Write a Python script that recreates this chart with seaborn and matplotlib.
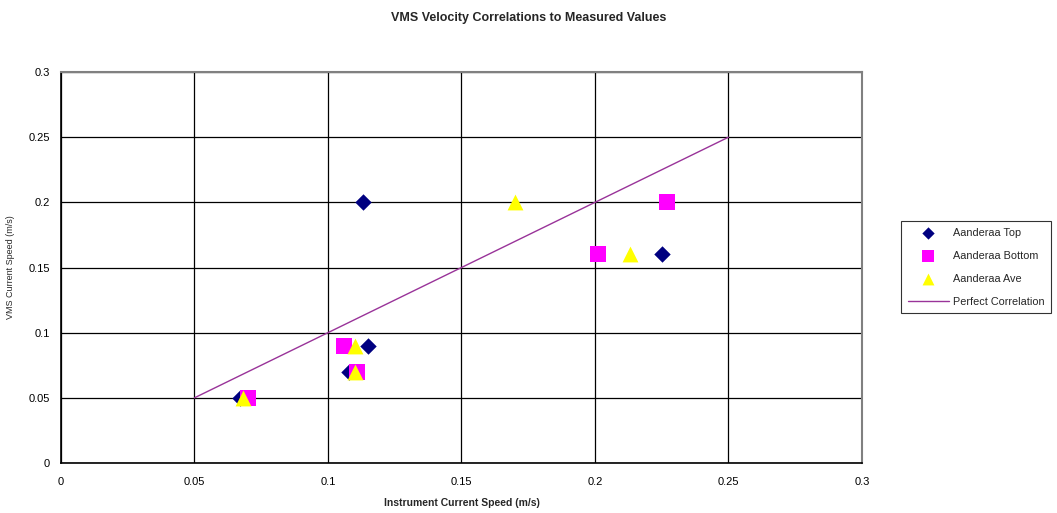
import pandas as pd
import numpy as np
import matplotlib
matplotlib.use("Agg")
import matplotlib.pyplot as plt
import seaborn as sns

# Values (m/s)
top_x = [0.067, 0.108, 0.115, 0.113, 0.225]
top_y = [0.05, 0.07, 0.09, 0.20, 0.16]
bottom_x = [0.070, 0.111, 0.106, 0.201, 0.227]
bottom_y = [0.05, 0.07, 0.09, 0.16, 0.20]
ave_x = [0.068, 0.110, 0.110, 0.170, 0.213]
ave_y = [0.05, 0.07, 0.09, 0.20, 0.16]
perfect_x = [0.05, 0.25]
perfect_y = [0.05, 0.25]

series_names = ["Aanderaa Top", "Aanderaa Bottom", "Aanderaa Ave"]
ticks = [0, 0.05, 0.1, 0.15, 0.2, 0.25, 0.3]
tick_labels = ["0", "0.05", "0.1", "0.15", "0.2", "0.25", "0.3"]

df = pd.concat([
    pd.DataFrame({"x": top_x, "y": top_y, "Series": series_names[0]}),
    pd.DataFrame({"x": bottom_x, "y": bottom_y, "Series": series_names[1]}),
    pd.DataFrame({"x": ave_x, "y": ave_y, "Series": series_names[2]}),
], ignore_index=True)
line_df = pd.DataFrame({"x": perfect_x, "y": perfect_y})

sns.set_theme(style="white")
plt.rcParams['font.family'] = ['Liberation Sans', 'DejaVu Sans']

fig = plt.figure(figsize=(10.57, 5.13), dpi=100)
ax = fig.add_axes([0.0577, 0.0975, 0.7578, 0.7621])

palette = {"Aanderaa Top": "#000080", "Aanderaa Bottom": "#FF00FF", "Aanderaa Ave": "#FFFF00"}
markers = {"Aanderaa Top": "D", "Aanderaa Bottom": "s", "Aanderaa Ave": "^"}
sizes = {"Aanderaa Top": 70, "Aanderaa Bottom": 120, "Aanderaa Ave": 130}

for name in series_names:
    sub = df[df["Series"] == name]
    sns.scatterplot(data=sub, x="x", y="y", color=palette[name], marker=markers[name],
                    s=sizes[name], linewidth=0, ax=ax, label=name, zorder=3)

sns.lineplot(data=line_df, x="x", y="y", color="#993399", lw=1.0, ax=ax,
             label="Perfect Correlation", zorder=2)

ax.set_xlim(0, 0.3)
ax.set_ylim(0, 0.3)
ax.set_xticks(ticks)
ax.set_xticklabels(tick_labels)
ax.set_yticks(ticks)
ax.set_yticklabels(tick_labels)
ax.tick_params(axis='both', labelsize=8, length=4, width=0.8, direction='out',
               colors='black', pad=4)
ax.tick_params(axis='x', pad=6)
ax.grid(True, color='black', lw=0.9)
ax.set_axisbelow(True)

for side in ['left', 'bottom']:
    ax.spines[side].set_color('black')
    ax.spines[side].set_linewidth(1.2)
for side in ['top', 'right']:
    ax.spines[side].set_color('#808080')
    ax.spines[side].set_linewidth(1.5)

ax.set_xlabel("Instrument Current Speed (m/s)", fontsize=7.5, fontweight='bold', labelpad=8)
ax.set_ylabel("VMS Current Speed (m/s)", fontsize=6.5)
ax.yaxis.set_label_coords(-0.057, 0.5)
fig.suptitle("VMS Velocity Correlations to Measured Values", fontsize=9, fontweight='bold',
             x=0.5, y=0.965, va='center')

handles, labels = ax.get_legend_handles_labels()
leg = ax.legend(handles, labels, loc='center left', bbox_to_anchor=(0.8475, 0.479),
                bbox_transform=fig.transFigure, fontsize=7.8, frameon=True, fancybox=False,
                edgecolor='black', borderpad=0.6, labelspacing=1.2, handlelength=3.8,
                handletextpad=0.4, markerscale=0.75)
leg.get_frame().set_linewidth(0.8)

fig.savefig("out.png", dpi=100)
